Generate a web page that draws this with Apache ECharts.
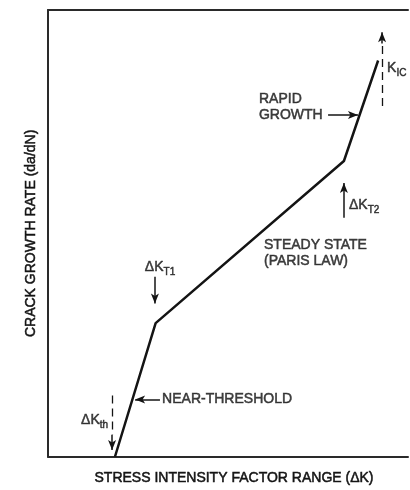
<!DOCTYPE html>
<html>
<head>
<meta charset="utf-8">
<script src="https://cdn.jsdelivr.net/npm/echarts@6/dist/echarts.min.js"></script>
<style>
  html, body { margin: 0; padding: 0; background: #fff; }
  #chart { width: 410px; height: 490px; }
</style>
</head>
<body>
<div id="chart"></div>
<script>
// Schematic fatigue crack growth curve, arbitrary units (0-100 on both axes)
const curveDK = [18.6, 29.9, 82.2, 91.7];
const curveRate = [0, 29.9, 66.2, 88.7];

// Solid arrows: shaft start -> arrow head
const arrowFrom = [[31.1, 12.8], [17.8, 4.9], [29.7, 40.3], [82.2, 53.5], [92.8, 92.5], [77.8, 76.5]];
const arrowTo   = [[24.2, 12.8], [17.8, 1.5], [29.7, 34.3], [82.2, 61.3], [92.8, 95.0], [86.1, 76.5]];

// Dashed guide lines (threshold and toughness limits)
const dashFrom = [[17.8, 13.7], [92.8, 78.5]];
const dashTo   = [[17.8, 4.9], [92.8, 92.5]];

// Annotation text and anchors
const noteText = ['NEAR-THRESHOLD', 'ΔK{sub|th}', 'ΔK{sub|T1}', 'ΔK{sub|T2}', 'K{sub|IC}', 'RAPID\nGROWTH', 'STEADY STATE\n(PARIS LAW)'];
const noteAt = [[31.7, 12.8], [16.7, 8.2], [26.9, 42.5], [83.6, 56.4], [94.2, 86.9], [58.6, 78.3], [60.0, 45.5]];
const noteAlign = ['left', 'right', 'left', 'left', 'left', 'left', 'left'];

const ink = '#141414';
const font = 'Liberation Sans';
const fs = 14;
// a thin outline in the text colour gives the heavier lettering weight
const heavy = { textBorderColor: ink, textBorderWidth: 0.5 };

const chart = echarts.init(document.getElementById('chart'), null, { renderer: 'canvas' });

const axisBase = {
  type: 'value', min: 0, max: 100,
  axisTick: { show: false }, axisLabel: { show: false }, splitLine: { show: false },
  axisLine: { show: true, lineStyle: { color: '#2a2a2a', width: 2 } }
};

const noteData = noteText.map((t, i) => ({
  value: noteAt[i],
  label: { formatter: t, align: noteAlign[i] }
}));

chart.setOption({
  animation: false,
  backgroundColor: '#fff',
  grid: { left: 48, right: 2, top: 10, bottom: 28 },
  xAxis: [
    Object.assign({}, axisBase, {
      position: 'bottom',
      name: 'STRESS INTENSITY FACTOR RANGE (ΔK)',
      nameLocation: 'middle', nameGap: 14,
      nameTextStyle: Object.assign({ color: ink, fontFamily: font, fontSize: fs, padding: [0, 0, 0, 12] }, heavy)
    }),
    Object.assign({}, axisBase, { position: 'top' })
  ],
  yAxis: Object.assign({}, axisBase, {
    name: 'CRACK GROWTH RATE (da/dN)',
    nameLocation: 'middle', nameGap: 10, nameRotate: 90,
    nameTextStyle: Object.assign({ color: ink, fontFamily: font, fontSize: fs }, heavy)
  }),
  series: [
    {
      type: 'line',
      data: curveDK.map((x, i) => [x, curveRate[i]]),
      symbol: 'none',
      lineStyle: { color: ink, width: 2.5 },
      markLine: {
        silent: true,
        symbol: ['none', 'arrow'],
        symbolSize: [6, 10],
        label: { show: false },
        lineStyle: { color: ink, width: 1.5, type: 'solid' },
        data: arrowFrom.map((p, i) => [{ coord: p }, { coord: arrowTo[i] }])
      }
    },
    {
      type: 'line',
      data: [],
      markLine: {
        silent: true,
        symbol: ['none', 'none'],
        label: { show: false },
        lineStyle: { color: ink, width: 1.3, type: [8, 5] },
        data: dashFrom.map((p, i) => [{ coord: p }, { coord: dashTo[i] }])
      }
    },
    {
      type: 'scatter',
      symbolSize: 0,
      silent: true,
      data: noteData,
      label: Object.assign({
        show: true,
        position: [0, 0],
        verticalAlign: 'middle',
        color: ink,
        fontFamily: font,
        fontSize: fs,
        lineHeight: 16,
        rich: {
          sub: Object.assign({ fontSize: 10, fontFamily: font, color: ink, lineHeight: 10, padding: [8, 0, 0, 0], verticalAlign: 'top' }, heavy)
        }
      }, heavy)
    }
  ]
});
</script>
</body>
</html>
